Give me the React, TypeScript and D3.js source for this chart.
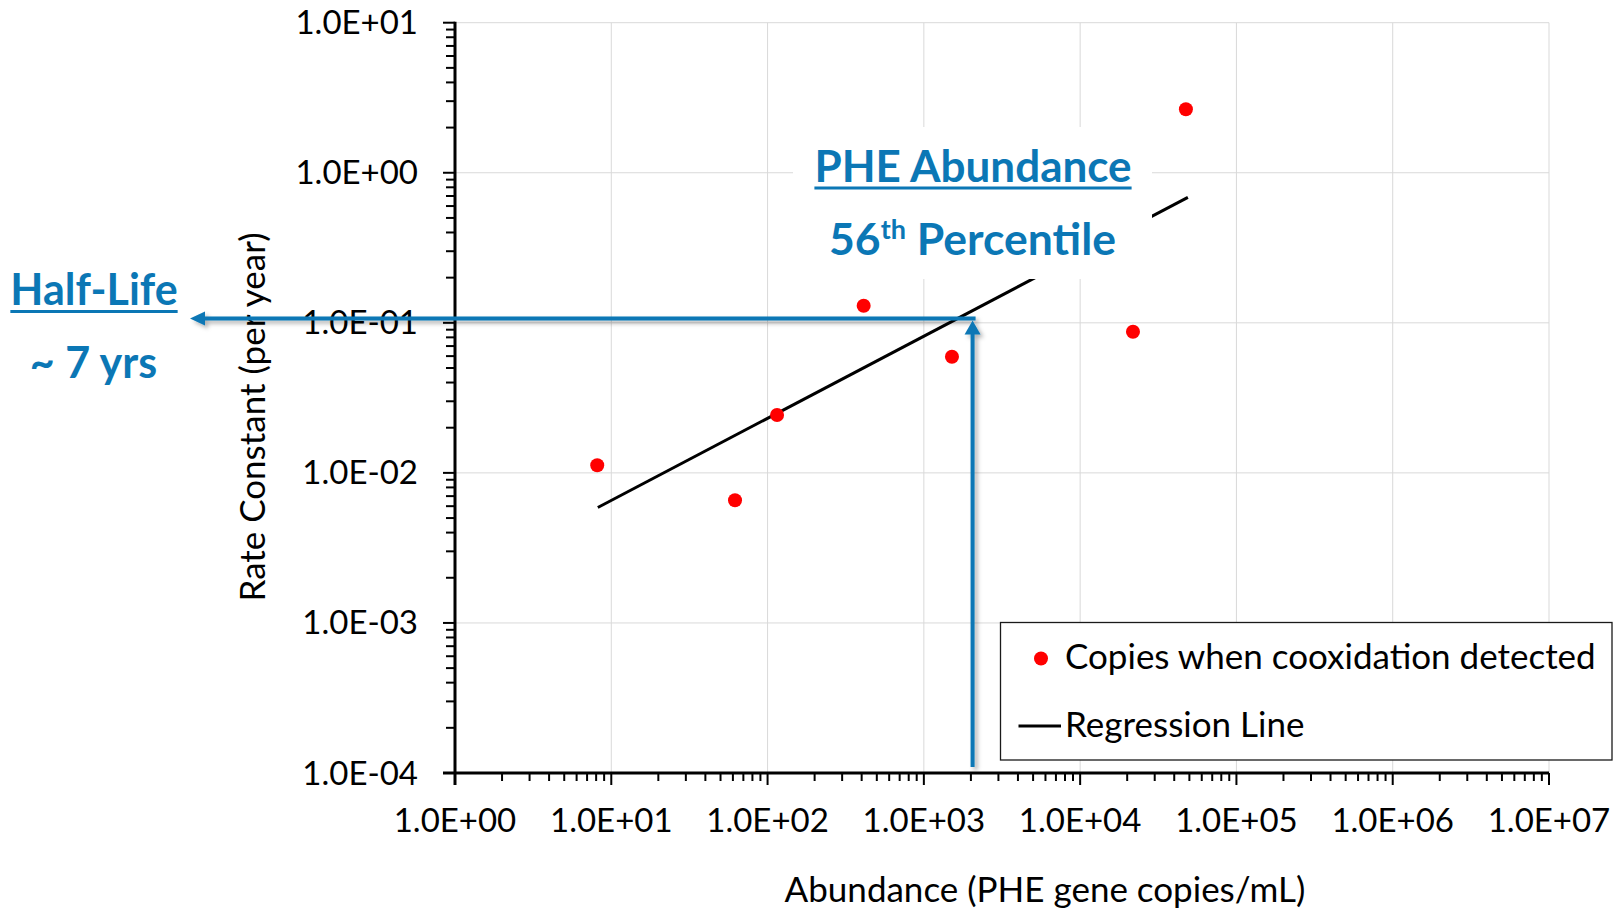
import React, { useEffect, useRef } from 'react';
import * as d3 from 'd3';

// ---- data ----
const abundance = [8.13, 61.9, 115, 412, 1513, 21780, 47500];
const rateConstant = [0.01124, 0.00657, 0.0243, 0.13, 0.0594, 0.0871, 2.65];
const regressionX = [8.2, 48900];
const regressionY = [0.00588, 0.685];
const xTickValues = [1, 10, 100, 1e3, 1e4, 1e5, 1e6, 1e7];
const xTickLabels = ['1.0E+00', '1.0E+01', '1.0E+02', '1.0E+03', '1.0E+04', '1.0E+05', '1.0E+06', '1.0E+07'];
const yTickValues = [1e-4, 1e-3, 1e-2, 1e-1, 1, 10];
const yTickLabels = ['1.0E-04', '1.0E-03', '1.0E-02', '1.0E-01', '1.0E+00', '1.0E+01'];
const seriesNames = ['Copies when cooxidation detected', 'Regression Line'];
const xTitle = 'Abundance (PHE gene copies/mL)';
const yTitle = 'Rate Constant (per year)';
const percentileAbundance = 2050;
const halfLifeRate = 0.107;

export default function App() {
  const ref = useRef<SVGSVGElement>(null);
  useEffect(() => {
    const svg = d3.select(ref.current);
    svg.selectAll('*').remove();
    const font = 'Lato, "Open Sans", sans-serif';
    const blue = '#0B77B5';
    const x = d3.scaleLog().domain([1, 1e7]).range([455, 1549]);
    const y = d3.scaleLog().domain([1e-4, 1e1]).range([773, 22.7]);
    const [x0, x1] = x.range();
    const [y0, y1] = y.range();

    const defs = svg.append('defs');
    const f = defs.append('filter').attr('id', 'shadow').attr('filterUnits', 'userSpaceOnUse')
      .attr('x', 0).attr('y', 0).attr('width', 1615).attr('height', 910);
    f.append('feDropShadow').attr('dx', 3).attr('dy', 3).attr('stdDeviation', 2)
      .attr('flood-color', '#000').attr('flood-opacity', 0.3);

    // grid
    const grid = svg.append('g').attr('stroke', '#d9d9d9').attr('stroke-width', 1);
    xTickValues.slice(1).forEach(v => {
      grid.append('line').attr('x1', x(v)).attr('x2', x(v)).attr('y1', y1).attr('y2', y0);
    });
    yTickValues.slice(1).forEach(v => {
      grid.append('line').attr('x1', x0).attr('x2', x1).attr('y1', y(v)).attr('y2', y(v));
    });

    // regression line
    const line = d3.line<number>().x((d, i) => x(regressionX[i])).y(d => y(d));
    svg.append('path').attr('d', line(regressionY) as string).attr('fill', 'none')
      .attr('stroke', '#000').attr('stroke-width', 3);

    // points
    svg.append('g').selectAll('circle').data(abundance).join('circle')
      .attr('cx', d => x(d)).attr('cy', (d, i) => y(rateConstant[i])).attr('r', 7).attr('fill', '#FF0000');

    // white box behind annotation text
    svg.append('rect').attr('x', 793).attr('y', 127).attr('width', 359).attr('height', 152).attr('fill', '#fff');

    // axes
    const ax = svg.append('g').attr('stroke', '#000');
    ax.append('line').attr('x1', x0 - 12).attr('x2', x1).attr('y1', y0).attr('y2', y0).attr('stroke-width', 3);
    ax.append('line').attr('x1', x0).attr('x2', x0).attr('y1', y1 - 1).attr('y2', y0 + 12).attr('stroke-width', 3);
    for (let d = 0; d < 7; d++) {
      for (let i = 2; i <= 9; i++) {
        const v = i * Math.pow(10, d);
        ax.append('line').attr('x1', x(v)).attr('x2', x(v)).attr('y1', y0).attr('y2', y0 + 8).attr('stroke-width', 2);
      }
    }
    xTickValues.forEach(v => {
      ax.append('line').attr('x1', x(v)).attr('x2', x(v)).attr('y1', y0).attr('y2', y0 + 12).attr('stroke-width', 2);
    });
    for (let d = -4; d < 1; d++) {
      for (let i = 2; i <= 9; i++) {
        const v = i * Math.pow(10, d);
        ax.append('line').attr('x1', x0 - 9).attr('x2', x0).attr('y1', y(v)).attr('y2', y(v)).attr('stroke-width', 2);
      }
    }
    yTickValues.forEach(v => {
      ax.append('line').attr('x1', x0 - 12).attr('x2', x0).attr('y1', y(v)).attr('y2', y(v)).attr('stroke-width', 2);
    });

    // tick labels
    const tl = svg.append('g').attr('font-family', font).attr('font-size', 33).attr('fill', '#000');
    xTickValues.forEach((v, i) => {
      tl.append('text').attr('x', x(v)).attr('y', 831.5).attr('text-anchor', 'middle').text(xTickLabels[i]);
    });
    yTickValues.forEach((v, i) => {
      tl.append('text').attr('x', 418).attr('y', y(v) + 11.5).attr('text-anchor', 'end').text(yTickLabels[i]);
    });

    // axis titles
    svg.append('text').attr('x', 1045).attr('y', 901.5).attr('text-anchor', 'middle')
      .attr('font-family', font).attr('font-size', 35).text(xTitle);
    svg.append('text').attr('transform', 'translate(265,417) rotate(-90)').attr('text-anchor', 'middle')
      .attr('font-family', font).attr('font-size', 35).text(yTitle);

    // legend
    const lg = svg.append('g');
    lg.append('rect').attr('x', 1000.5).attr('y', 622.5).attr('width', 611.5).attr('height', 137.5)
      .attr('fill', '#fff').attr('stroke', '#1a1a1a').attr('stroke-width', 1.3);
    lg.append('circle').attr('cx', 1041).attr('cy', 658.5).attr('r', 7).attr('fill', '#FF0000');
    lg.append('text').attr('x', 1065).attr('y', 668.5).attr('font-family', font).attr('font-size', 35).text(seriesNames[0]);
    lg.append('line').attr('x1', 1018.5).attr('x2', 1061).attr('y1', 726).attr('y2', 726).attr('stroke', '#000').attr('stroke-width', 3);
    lg.append('text').attr('x', 1065).attr('y', 736.7).attr('font-family', font).attr('font-size', 35).text(seriesNames[1]);

    // blue arrows
    const vx = x(percentileAbundance);
    const hy = y(halfLifeRate);
    const arr = svg.append('g').attr('filter', 'url(#shadow)');
    arr.append('path').attr('d', `M${vx + 3},${hy} H203`).attr('stroke', blue).attr('stroke-width', 4).attr('fill', 'none');
    arr.append('path').attr('d', `M190,${hy} L205,${hy - 7} L205,${hy + 7} Z`).attr('fill', blue);
    arr.append('path').attr('d', `M${vx},${y0 - 6} V${hy + 14}`).attr('stroke', blue).attr('stroke-width', 4).attr('fill', 'none');
    arr.append('path').attr('d', `M${vx},${hy + 2} L${vx - 8},${hy + 16} L${vx + 8},${hy + 16} Z`).attr('fill', blue);

    // annotation text
    const an = svg.append('g').attr('font-family', font).attr('font-weight', 700).attr('fill', blue);
    const t1 = an.append('text').attr('x', 973).attr('y', 181.7).attr('text-anchor', 'middle').attr('font-size', 44).text('PHE Abundance');
    const t2 = an.append('text').attr('x', 972.5).attr('y', 255).attr('text-anchor', 'middle').attr('font-size', 44.5);
    t2.append('tspan').text('56');
    t2.append('tspan').attr('font-size', 27).attr('dy', -16).text('th');
    t2.append('tspan').attr('dy', 16).text(' Percentile');
    const t3 = an.append('text').attr('x', 94).attr('y', 305).attr('text-anchor', 'middle').attr('font-size', 43).text('Half-Life');
    an.append('text').attr('x', 93.5).attr('y', 378).attr('text-anchor', 'middle').attr('font-size', 43).text('~ 7 yrs');
    const ul = (t: any, yy: number) => {
      const b = (t.node() as SVGTextElement).getBBox();
      an.append('line').attr('x1', b.x).attr('x2', b.x + b.width).attr('y1', yy).attr('y2', yy)
        .attr('stroke', blue).attr('stroke-width', 3);
    };
    ul(t1, 188);
    ul(t3, 311.5);
  }, []);
  return <svg ref={ref} width={1615} height={910} style={{ position: 'absolute', left: 0, top: 0, background: '#fff' }} />;
}
